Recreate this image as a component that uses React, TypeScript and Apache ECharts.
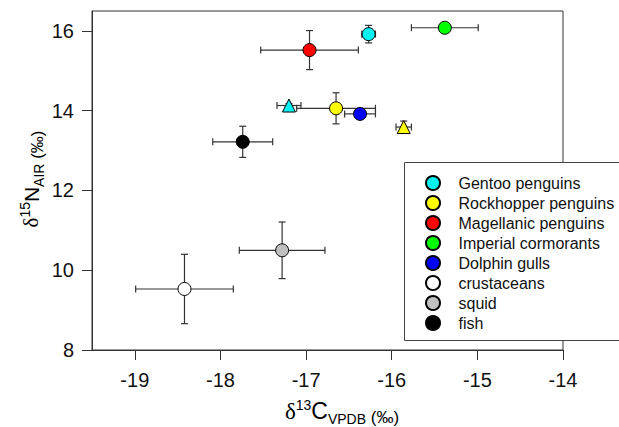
import React, { useEffect, useRef } from "react";
import * as echarts from "echarts";

// [x (δ13C), y (δ15N), x error, y error, marker]
const groupNames = [
  "Gentoo penguins",
  "Rockhopper penguins",
  "Magellanic penguins",
  "Imperial cormorants",
  "Dolphin gulls",
  "crustaceans",
  "squid",
  "fish",
];
const gentoo = [
  [-16.27, 15.92, 0.08, 0.22, "circle"],
  [-17.2, 14.13, 0.14, 0.05, "triangle"],
];
const rockhopper = [
  [-16.65, 14.06, 0.46, 0.39, "circle"],
  [-15.86, 13.59, 0.09, 0.15, "triangle"],
];
const magellanic = [[-16.96, 15.52, 0.57, 0.49, "circle"]];
const imperial = [[-15.38, 16.08, 0.39, 0.08, "circle"]];
const dolphin = [[-16.37, 13.92, 0.18, 0.1, "circle"]];
const crustaceans = [[-18.42, 9.53, 0.57, 0.87, "circle"]];
const squid = [[-17.28, 10.5, 0.5, 0.71, "circle"]];
const fish = [[-17.74, 13.22, 0.35, 0.39, "circle"]];
const groupData = [gentoo, rockhopper, magellanic, imperial, dolphin, crustaceans, squid, fish];
const groupColors = ["#00f2f2", "#ffff00", "#ff0000", "#00ff00", "#0000ff", "#ffffff", "#c0c0c0", "#000000"];

const xTicks = [-19, -18, -17, -16, -15, -14];
const yTicks = [8, 10, 12, 14, 16];

const FONT = "'Liberation Sans', Arial, Helvetica, sans-serif";

export default function App() {
  const ref = useRef<HTMLDivElement>(null);
  useEffect(() => {
    if (!ref.current) return;
    const chart = echarts.init(ref.current, null, { renderer: "svg" });

    const errData: any[] = [];
    groupData.forEach((g) => g.forEach((p) => errData.push([p[0], p[1], p[2], p[3]])));

    const scatterSeries = groupNames.map((name, i) => ({
      name,
      type: "scatter",
      z: 5,
      symbolSize: 13,
      itemStyle: { color: groupColors[i], borderColor: "#000", borderWidth: 1, opacity: 1 },
      data: groupData[i].map((p) => ({ value: [p[0], p[1]], symbol: p[4] })),
    }));

    const rich = (big: number) => ({
      d: { fontSize: big, fontFamily: "'Liberation Serif', 'DejaVu Serif', serif", lineHeight: 30, verticalAlign: "middle", color: "#111" },
      m: { fontSize: big, fontFamily: FONT, lineHeight: 30, verticalAlign: "middle", color: "#111" },
      sup: { fontSize: 14, fontFamily: FONT, lineHeight: 14, verticalAlign: "top", color: "#111", padding: [2, 0, 0, 0] },
      sub: { fontSize: 14, fontFamily: FONT, lineHeight: 14, verticalAlign: "bottom", color: "#111" },
      p: { fontSize: 17, fontFamily: FONT, lineHeight: 26, verticalAlign: "bottom", color: "#111" },
    });

    chart.setOption({
      animation: false,
      backgroundColor: "#fff",
      grid: { left: 92, top: 11, width: 471, height: 339, show: true, borderColor: "#333", borderWidth: 1 },
      xAxis: {
        type: "value",
        min: -19.5,
        max: -14,
        splitLine: { show: false },
        axisLine: { lineStyle: { color: "#333" } },
        axisTick: { customValues: xTicks, length: 10, lineStyle: { color: "#333" } },
        axisLabel: { customValues: xTicks, fontSize: 20, fontFamily: FONT, color: "#111", margin: 20 },
      },
      yAxis: {
        type: "value",
        min: 8,
        max: 16.5,
        splitLine: { show: false },
        axisLine: { show: true, lineStyle: { color: "#333" } },
        axisTick: { show: true, customValues: yTicks, length: 10, lineStyle: { color: "#333" } },
        axisLabel: { customValues: yTicks, fontSize: 20, fontFamily: FONT, color: "#111", margin: 18 },
      },
      legend: {
        left: 425,
        top: 175,
        orient: "vertical",
        padding: 0,
        itemWidth: 41,
        itemHeight: 14,
        itemGap: 4,
        symbolKeepAspect: true,
        selectedMode: false,
        z: 30,
        textStyle: { fontSize: 16, fontFamily: FONT, color: "#111" },
        data: groupNames.map((n) => ({ name: n, icon: "circle" })),
      },
      graphic: [
        {
          type: "rect",
          z: 20,
          shape: { x: 404.5, y: 162.5, width: 240, height: 178 },
          style: { fill: "#fff", stroke: null, lineWidth: 0 },
        },
        {
          type: "polyline",
          z: 21,
          shape: { points: [[660, 162.5], [404.5, 162.5], [404.5, 340.5], [660, 340.5]] },
          style: { fill: null, stroke: "#444", lineWidth: 1 },
        },
        {
          type: "text",
          x: 342,
          y: 411,
          z: 20,
          style: {
            text: "{d|δ}{sup|13}{m|C}{sub|VPDB}{p| (‰)}",
            rich: rich(23),
            align: "center",
            verticalAlign: "middle",
          },
        },
        {
          type: "text",
          x: 31,
          y: 179,
          z: 20,
          rotation: Math.PI / 2,
          style: {
            text: "{d|δ}{sup|15}{m|N}{sub|AIR}{p| (‰)}",
            rich: rich(21),
            align: "center",
            verticalAlign: "middle",
          },
        },
      ],
      series: [
        {
          type: "custom",
          name: "errorbars",
          z: 3,
          silent: true,
          data: errData,
          renderItem: (params: any, api: any) => {
            const x = api.value(0), y = api.value(1), ex = api.value(2), ey = api.value(3);
            const l = api.coord([x - ex, y]);
            const r = api.coord([x + ex, y]);
            const t = api.coord([x, y + ey]);
            const b = api.coord([x, y - ey]);
            const cap = 3.5;
            const st = { stroke: "#333", lineWidth: 1.2 };
            const line = (x1: number, y1: number, x2: number, y2: number) => ({
              type: "line",
              shape: { x1, y1, x2, y2 },
              style: st,
            });
            return {
              type: "group",
              children: [
                line(l[0], l[1], r[0], r[1]),
                line(l[0], l[1] - cap, l[0], l[1] + cap),
                line(r[0], r[1] - cap, r[0], r[1] + cap),
                line(t[0], t[1], b[0], b[1]),
                line(t[0] - cap, t[1], t[0] + cap, t[1]),
                line(b[0] - cap, b[1], b[0] + cap, b[1]),
              ],
            };
          },
        },
        ...scatterSeries,
      ],
    });
    return () => chart.dispose();
  }, []);
  return <div ref={ref} style={{ position: "fixed", left: 0, top: 0, width: 619, height: 427 }} />;
}
